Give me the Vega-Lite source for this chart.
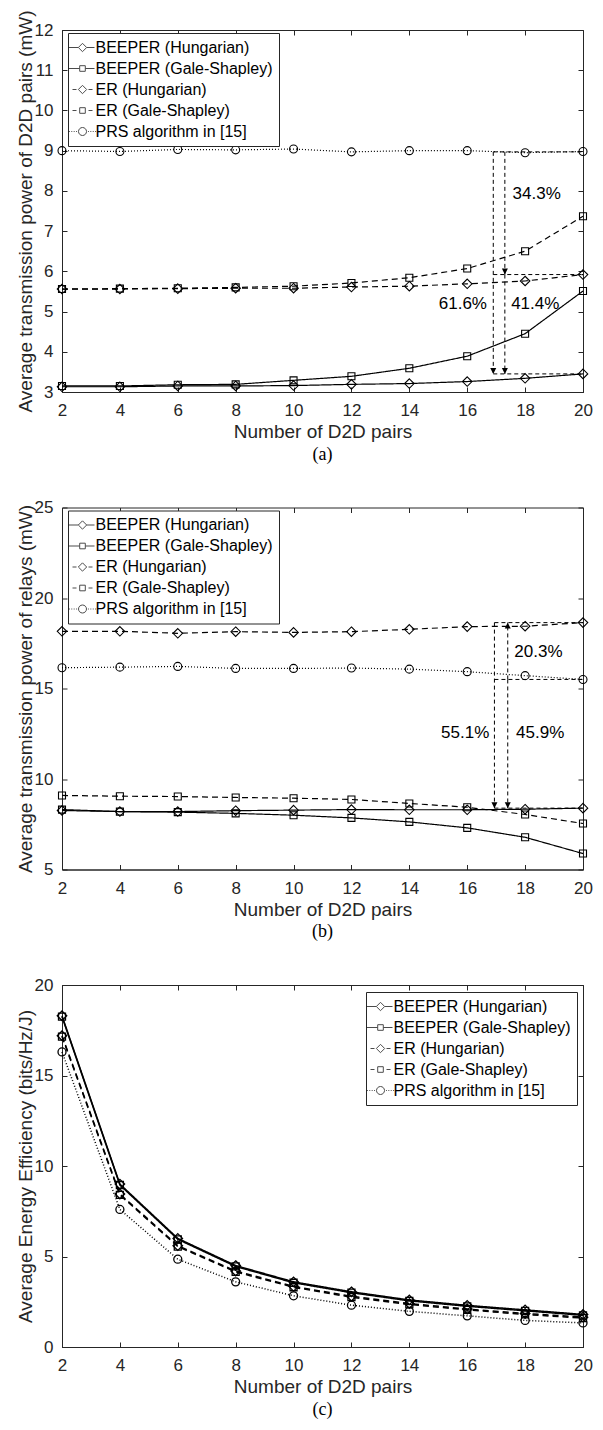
{
  "$schema": "https://vega.github.io/schema/vega-lite/v6.json",
  "background": "white",
  "padding": {"left": 15, "top": 9, "right": 5, "bottom": 5},
  "spacing": 33.5,
  "resolve": {"scale": {"strokeDash": "independent", "shape": "independent"}, "legend": {"strokeDash": "independent", "shape": "independent"}},
  "datasets": {
    "a": [
      {"n":2,"v":3.13,"s":"BEEPER (Hungarian)"},{"n":4,"v":3.13,"s":"BEEPER (Hungarian)"},{"n":6,"v":3.15,"s":"BEEPER (Hungarian)"},{"n":8,"v":3.15,"s":"BEEPER (Hungarian)"},{"n":10,"v":3.16,"s":"BEEPER (Hungarian)"},{"n":12,"v":3.19,"s":"BEEPER (Hungarian)"},{"n":14,"v":3.21,"s":"BEEPER (Hungarian)"},{"n":16,"v":3.26,"s":"BEEPER (Hungarian)"},{"n":18,"v":3.34,"s":"BEEPER (Hungarian)"},{"n":20,"v":3.45,"s":"BEEPER (Hungarian)"},
      {"n":2,"v":3.15,"s":"BEEPER (Gale-Shapley)"},{"n":4,"v":3.15,"s":"BEEPER (Gale-Shapley)"},{"n":6,"v":3.18,"s":"BEEPER (Gale-Shapley)"},{"n":8,"v":3.19,"s":"BEEPER (Gale-Shapley)"},{"n":10,"v":3.29,"s":"BEEPER (Gale-Shapley)"},{"n":12,"v":3.39,"s":"BEEPER (Gale-Shapley)"},{"n":14,"v":3.59,"s":"BEEPER (Gale-Shapley)"},{"n":16,"v":3.89,"s":"BEEPER (Gale-Shapley)"},{"n":18,"v":4.45,"s":"BEEPER (Gale-Shapley)"},{"n":20,"v":5.51,"s":"BEEPER (Gale-Shapley)"},
      {"n":2,"v":5.56,"s":"ER (Hungarian)"},{"n":4,"v":5.56,"s":"ER (Hungarian)"},{"n":6,"v":5.57,"s":"ER (Hungarian)"},{"n":8,"v":5.58,"s":"ER (Hungarian)"},{"n":10,"v":5.58,"s":"ER (Hungarian)"},{"n":12,"v":5.61,"s":"ER (Hungarian)"},{"n":14,"v":5.63,"s":"ER (Hungarian)"},{"n":16,"v":5.69,"s":"ER (Hungarian)"},{"n":18,"v":5.76,"s":"ER (Hungarian)"},{"n":20,"v":5.92,"s":"ER (Hungarian)"},
      {"n":2,"v":5.56,"s":"ER (Gale-Shapley)"},{"n":4,"v":5.57,"s":"ER (Gale-Shapley)"},{"n":6,"v":5.58,"s":"ER (Gale-Shapley)"},{"n":8,"v":5.6,"s":"ER (Gale-Shapley)"},{"n":10,"v":5.63,"s":"ER (Gale-Shapley)"},{"n":12,"v":5.71,"s":"ER (Gale-Shapley)"},{"n":14,"v":5.84,"s":"ER (Gale-Shapley)"},{"n":16,"v":6.07,"s":"ER (Gale-Shapley)"},{"n":18,"v":6.5,"s":"ER (Gale-Shapley)"},{"n":20,"v":7.37,"s":"ER (Gale-Shapley)"},
      {"n":2,"v":9.0,"s":"PRS algorithm in [15]"},{"n":4,"v":8.98,"s":"PRS algorithm in [15]"},{"n":6,"v":9.03,"s":"PRS algorithm in [15]"},{"n":8,"v":9.02,"s":"PRS algorithm in [15]"},{"n":10,"v":9.04,"s":"PRS algorithm in [15]"},{"n":12,"v":8.97,"s":"PRS algorithm in [15]"},{"n":14,"v":9.0,"s":"PRS algorithm in [15]"},{"n":16,"v":9.0,"s":"PRS algorithm in [15]"},{"n":18,"v":8.95,"s":"PRS algorithm in [15]"},{"n":20,"v":8.98,"s":"PRS algorithm in [15]"}
    ],
    "b": [
      {"n":2,"v":8.26,"s":"BEEPER (Hungarian)"},{"n":4,"v":8.2,"s":"BEEPER (Hungarian)"},{"n":6,"v":8.2,"s":"BEEPER (Hungarian)"},{"n":8,"v":8.25,"s":"BEEPER (Hungarian)"},{"n":10,"v":8.28,"s":"BEEPER (Hungarian)"},{"n":12,"v":8.31,"s":"BEEPER (Hungarian)"},{"n":14,"v":8.3,"s":"BEEPER (Hungarian)"},{"n":16,"v":8.3,"s":"BEEPER (Hungarian)"},{"n":18,"v":8.33,"s":"BEEPER (Hungarian)"},{"n":20,"v":8.39,"s":"BEEPER (Hungarian)"},
      {"n":2,"v":8.31,"s":"BEEPER (Gale-Shapley)"},{"n":4,"v":8.2,"s":"BEEPER (Gale-Shapley)"},{"n":6,"v":8.17,"s":"BEEPER (Gale-Shapley)"},{"n":8,"v":8.1,"s":"BEEPER (Gale-Shapley)"},{"n":10,"v":8.0,"s":"BEEPER (Gale-Shapley)"},{"n":12,"v":7.85,"s":"BEEPER (Gale-Shapley)"},{"n":14,"v":7.63,"s":"BEEPER (Gale-Shapley)"},{"n":16,"v":7.3,"s":"BEEPER (Gale-Shapley)"},{"n":18,"v":6.78,"s":"BEEPER (Gale-Shapley)"},{"n":20,"v":5.88,"s":"BEEPER (Gale-Shapley)"},
      {"n":2,"v":18.16,"s":"ER (Hungarian)"},{"n":4,"v":18.16,"s":"ER (Hungarian)"},{"n":6,"v":18.05,"s":"ER (Hungarian)"},{"n":8,"v":18.14,"s":"ER (Hungarian)"},{"n":10,"v":18.1,"s":"ER (Hungarian)"},{"n":12,"v":18.14,"s":"ER (Hungarian)"},{"n":14,"v":18.27,"s":"ER (Hungarian)"},{"n":16,"v":18.42,"s":"ER (Hungarian)"},{"n":18,"v":18.44,"s":"ER (Hungarian)"},{"n":20,"v":18.64,"s":"ER (Hungarian)"},
      {"n":2,"v":9.09,"s":"ER (Gale-Shapley)"},{"n":4,"v":9.05,"s":"ER (Gale-Shapley)"},{"n":6,"v":9.03,"s":"ER (Gale-Shapley)"},{"n":8,"v":8.98,"s":"ER (Gale-Shapley)"},{"n":10,"v":8.94,"s":"ER (Gale-Shapley)"},{"n":12,"v":8.87,"s":"ER (Gale-Shapley)"},{"n":14,"v":8.65,"s":"ER (Gale-Shapley)"},{"n":16,"v":8.44,"s":"ER (Gale-Shapley)"},{"n":18,"v":8.04,"s":"ER (Gale-Shapley)"},{"n":20,"v":7.54,"s":"ER (Gale-Shapley)"},
      {"n":2,"v":16.15,"s":"PRS algorithm in [15]"},{"n":4,"v":16.18,"s":"PRS algorithm in [15]"},{"n":6,"v":16.22,"s":"PRS algorithm in [15]"},{"n":8,"v":16.11,"s":"PRS algorithm in [15]"},{"n":10,"v":16.11,"s":"PRS algorithm in [15]"},{"n":12,"v":16.13,"s":"PRS algorithm in [15]"},{"n":14,"v":16.07,"s":"PRS algorithm in [15]"},{"n":16,"v":15.93,"s":"PRS algorithm in [15]"},{"n":18,"v":15.71,"s":"PRS algorithm in [15]"},{"n":20,"v":15.5,"s":"PRS algorithm in [15]"}
    ],
    "c": [
      {"n":2,"v":18.3,"s":"BEEPER (Hungarian)"},{"n":4,"v":9.0,"s":"BEEPER (Hungarian)"},{"n":6,"v":6.0,"s":"BEEPER (Hungarian)"},{"n":8,"v":4.5,"s":"BEEPER (Hungarian)"},{"n":10,"v":3.6,"s":"BEEPER (Hungarian)"},{"n":12,"v":3.05,"s":"BEEPER (Hungarian)"},{"n":14,"v":2.6,"s":"BEEPER (Hungarian)"},{"n":16,"v":2.3,"s":"BEEPER (Hungarian)"},{"n":18,"v":2.05,"s":"BEEPER (Hungarian)"},{"n":20,"v":1.8,"s":"BEEPER (Hungarian)"},
      {"n":2,"v":18.25,"s":"BEEPER (Gale-Shapley)"},{"n":4,"v":8.95,"s":"BEEPER (Gale-Shapley)"},{"n":6,"v":5.95,"s":"BEEPER (Gale-Shapley)"},{"n":8,"v":4.45,"s":"BEEPER (Gale-Shapley)"},{"n":10,"v":3.55,"s":"BEEPER (Gale-Shapley)"},{"n":12,"v":3.0,"s":"BEEPER (Gale-Shapley)"},{"n":14,"v":2.55,"s":"BEEPER (Gale-Shapley)"},{"n":16,"v":2.25,"s":"BEEPER (Gale-Shapley)"},{"n":18,"v":2.0,"s":"BEEPER (Gale-Shapley)"},{"n":20,"v":1.75,"s":"BEEPER (Gale-Shapley)"},
      {"n":2,"v":17.2,"s":"ER (Hungarian)"},{"n":4,"v":8.45,"s":"ER (Hungarian)"},{"n":6,"v":5.6,"s":"ER (Hungarian)"},{"n":8,"v":4.2,"s":"ER (Hungarian)"},{"n":10,"v":3.35,"s":"ER (Hungarian)"},{"n":12,"v":2.8,"s":"ER (Hungarian)"},{"n":14,"v":2.4,"s":"ER (Hungarian)"},{"n":16,"v":2.1,"s":"ER (Hungarian)"},{"n":18,"v":1.85,"s":"ER (Hungarian)"},{"n":20,"v":1.65,"s":"ER (Hungarian)"},
      {"n":2,"v":17.15,"s":"ER (Gale-Shapley)"},{"n":4,"v":8.4,"s":"ER (Gale-Shapley)"},{"n":6,"v":5.55,"s":"ER (Gale-Shapley)"},{"n":8,"v":4.15,"s":"ER (Gale-Shapley)"},{"n":10,"v":3.3,"s":"ER (Gale-Shapley)"},{"n":12,"v":2.75,"s":"ER (Gale-Shapley)"},{"n":14,"v":2.35,"s":"ER (Gale-Shapley)"},{"n":16,"v":2.05,"s":"ER (Gale-Shapley)"},{"n":18,"v":1.8,"s":"ER (Gale-Shapley)"},{"n":20,"v":1.6,"s":"ER (Gale-Shapley)"},
      {"n":2,"v":16.3,"s":"PRS algorithm in [15]"},{"n":4,"v":7.6,"s":"PRS algorithm in [15]"},{"n":6,"v":4.85,"s":"PRS algorithm in [15]"},{"n":8,"v":3.6,"s":"PRS algorithm in [15]"},{"n":10,"v":2.83,"s":"PRS algorithm in [15]"},{"n":12,"v":2.31,"s":"PRS algorithm in [15]"},{"n":14,"v":1.97,"s":"PRS algorithm in [15]"},{"n":16,"v":1.72,"s":"PRS algorithm in [15]"},{"n":18,"v":1.47,"s":"PRS algorithm in [15]"},{"n":20,"v":1.33,"s":"PRS algorithm in [15]"}
    ]
  },
  "vconcat": [
    {
      "width": 521, "height": 362,
      "title": {"text": "(a)"},
      "layer": [
        {
          "data": {"name": "a"},
          "mark": {"type": "line", "strokeWidth": 1.2, "color": "black"},
          "encoding": {
            "x": {"field": "n", "type": "quantitative", "scale": {"domain": [2, 20], "nice": false}, "axis": {"values": [2,4,6,8,10,12,14,16,18,20], "title": "Number of D2D pairs"}},
            "y": {"field": "v", "type": "quantitative", "scale": {"domain": [3, 12], "nice": false, "zero": false}, "axis": {"values": [3,4,5,6,7,8,9,10,11,12], "title": "Average transmission power of D2D pairs (mW)"}},
            "strokeDash": {"field": "s", "type": "nominal", "legend": null,
              "scale": {"domain": ["BEEPER (Hungarian)","BEEPER (Gale-Shapley)","ER (Hungarian)","ER (Gale-Shapley)","PRS algorithm in [15]"], "range": [[1,0],[1,0],[6,4],[6,4],[1,2]]}}
          }
        },
        {
          "data": {"name": "a"},
          "mark": {"type": "point", "filled": false, "strokeWidth": 1.1, "color": "black", "opacity": 1, "size": 100},
          "encoding": {
            "x": {"field": "n", "type": "quantitative", "axis": null},
            "y": {"field": "v", "type": "quantitative", "axis": null},
            "shape": {"field": "s", "type": "nominal", "legend": null,
              "scale": {"domain": ["BEEPER (Hungarian)","BEEPER (Gale-Shapley)","ER (Hungarian)","ER (Gale-Shapley)","PRS algorithm in [15]"],
                "range": ["M0,-0.95L0.95,0L0,0.95L-0.95,0Z","M-0.7,-0.7H0.7V0.7H-0.7Z","M0,-0.95L0.95,0L0,0.95L-0.95,0Z","M-0.7,-0.7H0.7V0.7H-0.7Z","M0.8,0A0.8,0.8,0,1,1,-0.8,0A0.8,0.8,0,1,1,0.8,0Z"]}}
          }
        },
        {
          "data": {"name": "a"},
          "transform": [{"filter": "false"}],
          "mark": {"type": "point", "filled": false, "strokeWidth": 1, "color": "black"},
          "encoding": {
            "shape": {"field": "s", "type": "nominal",
              "scale": {"domain": ["BEEPER (Hungarian)","BEEPER (Gale-Shapley)","ER (Hungarian)","ER (Gale-Shapley)","PRS algorithm in [15]"],
                "range": ["M-1.7,0H-0.52M0.52,0H1.5M-0.52,0L0,-0.52L0.52,0L0,0.52Z","M-1.7,0H-0.35M0.35,0H1.5M-0.35,-0.35H0.35V0.35H-0.35Z","M-1.25,0H-0.75M0.75,0H1.25M-0.52,0L0,-0.52L0.52,0L0,0.52Z","M-1.25,0H-0.75M0.75,0H1.25M-0.35,-0.35H0.35V0.35H-0.35Z","M-1.7,0H-1.58M-1.4,0H-1.28M-1.1,0H-0.98M-0.8,0H-0.68M0.68,0H0.8M0.98,0H1.1M1.28,0H1.4M1.58,0H1.7M0.5,0A0.5,0.5,0,1,1,-0.5,0A0.5,0.5,0,1,1,0.5,0Z"]},
              "legend": {"title": null, "orient": "none", "legendX": 6, "legendY": 3, "direction": "vertical", "strokeColor": "#262626", "fillColor": "white", "padding": 6, "rowPadding": 4, "symbolSize": 256, "symbolStrokeColor": "black", "symbolFillColor": "transparent", "symbolStrokeWidth": 1, "labelFont": "Liberation Sans", "labelFontSize": 16, "labelColor": "black", "labelOffset": 4.5, "labelLimit": 400}}
          }
        },
        {
          "data": {"values": [{"n":16.9,"v":8.97,"v2":3.45},{"n":17.3,"v":8.97,"v2":5.92},{"n":17.3,"v":5.92,"v2":3.45}]},
          "mark": {"type": "rule", "strokeDash": [4,3], "strokeWidth": 1, "color": "black"},
          "encoding": {"x": {"field": "n", "type": "quantitative", "axis": null}, "y": {"field": "v", "type": "quantitative", "axis": null}, "y2": {"field": "v2"}}
        },
        {
          "data": {"values": [{"n":16.9,"n2":20,"v":8.97},{"n":16.9,"n2":20,"v":5.92},{"n":16.9,"n2":20,"v":3.45}]},
          "mark": {"type": "rule", "strokeDash": [4,3], "strokeWidth": 1, "color": "black"},
          "encoding": {"x": {"field": "n", "type": "quantitative", "axis": null}, "x2": {"field": "n2"}, "y": {"field": "v", "type": "quantitative", "axis": null}}
        },
        {
          "data": {"values": [{"n":16.9,"v":3.45},{"n":17.3,"v":5.92},{"n":17.3,"v":3.45}]},
          "mark": {"type": "point", "shape": "M-0.5,-1L0,0L0.5,-1Z", "filled": true, "size": 144, "color": "black", "opacity": 1},
          "encoding": {"x": {"field": "n", "type": "quantitative", "axis": null}, "y": {"field": "v", "type": "quantitative", "axis": null}}
        },
        {
          "data": {"values": [{"n":18.4,"v":7.93,"t":"34.3%"},{"n":15.85,"v":5.18,"t":"61.6%"},{"n":18.35,"v":5.18,"t":"41.4%"}]},
          "mark": {"type": "text", "font": "Liberation Sans", "fontSize": 17, "color": "black", "align": "center", "baseline": "middle"},
          "encoding": {"x": {"field": "n", "type": "quantitative", "axis": null}, "y": {"field": "v", "type": "quantitative", "axis": null}, "text": {"field": "t"}}
        },
        {
          "data": {"name": "a"},
          "mark": {"type": "point", "opacity": 0},
          "encoding": {
            "x": {"field": "n", "type": "quantitative", "axis": {"orient": "top", "labels": false, "title": null, "domain": false, "values": [2,4,6,8,10,12,14,16,18,20]}},
            "y": {"field": "v", "type": "quantitative", "axis": {"orient": "right", "labels": false, "title": null, "domain": false, "values": [3,4,5,6,7,8,9,10,11,12]}}
          }
        }
      ],
      "resolve": {"axis": {"x": "independent", "y": "independent"}, "scale": {"shape": "independent"}, "legend": {"shape": "independent"}}
    },
    {
      "width": 521, "height": 362,
      "title": {"text": "(b)"},
      "layer": [
        {
          "data": {"name": "b"},
          "mark": {"type": "line", "strokeWidth": 1.2, "color": "black"},
          "encoding": {
            "x": {"field": "n", "type": "quantitative", "scale": {"domain": [2, 20], "nice": false}, "axis": {"values": [2,4,6,8,10,12,14,16,18,20], "title": "Number of D2D pairs"}},
            "y": {"field": "v", "type": "quantitative", "scale": {"domain": [5, 25], "nice": false, "zero": false}, "axis": {"values": [5,10,15,20,25], "title": "Average transmission power of relays (mW)"}},
            "strokeDash": {"field": "s", "type": "nominal", "legend": null,
              "scale": {"domain": ["BEEPER (Hungarian)","BEEPER (Gale-Shapley)","ER (Hungarian)","ER (Gale-Shapley)","PRS algorithm in [15]"], "range": [[1,0],[1,0],[6,4],[6,4],[1,2]]}}
          }
        },
        {
          "data": {"name": "b"},
          "mark": {"type": "point", "filled": false, "strokeWidth": 1.1, "color": "black", "opacity": 1, "size": 100},
          "encoding": {
            "x": {"field": "n", "type": "quantitative", "axis": null},
            "y": {"field": "v", "type": "quantitative", "axis": null},
            "shape": {"field": "s", "type": "nominal", "legend": null,
              "scale": {"domain": ["BEEPER (Hungarian)","BEEPER (Gale-Shapley)","ER (Hungarian)","ER (Gale-Shapley)","PRS algorithm in [15]"],
                "range": ["M0,-0.95L0.95,0L0,0.95L-0.95,0Z","M-0.7,-0.7H0.7V0.7H-0.7Z","M0,-0.95L0.95,0L0,0.95L-0.95,0Z","M-0.7,-0.7H0.7V0.7H-0.7Z","M0.8,0A0.8,0.8,0,1,1,-0.8,0A0.8,0.8,0,1,1,0.8,0Z"]}}
          }
        },
        {
          "data": {"name": "b"},
          "transform": [{"filter": "false"}],
          "mark": {"type": "point", "filled": false, "strokeWidth": 1, "color": "black"},
          "encoding": {
            "shape": {"field": "s", "type": "nominal",
              "scale": {"domain": ["BEEPER (Hungarian)","BEEPER (Gale-Shapley)","ER (Hungarian)","ER (Gale-Shapley)","PRS algorithm in [15]"],
                "range": ["M-1.7,0H-0.52M0.52,0H1.5M-0.52,0L0,-0.52L0.52,0L0,0.52Z","M-1.7,0H-0.35M0.35,0H1.5M-0.35,-0.35H0.35V0.35H-0.35Z","M-1.25,0H-0.75M0.75,0H1.25M-0.52,0L0,-0.52L0.52,0L0,0.52Z","M-1.25,0H-0.75M0.75,0H1.25M-0.35,-0.35H0.35V0.35H-0.35Z","M-1.7,0H-1.58M-1.4,0H-1.28M-1.1,0H-0.98M-0.8,0H-0.68M0.68,0H0.8M0.98,0H1.1M1.28,0H1.4M1.58,0H1.7M0.5,0A0.5,0.5,0,1,1,-0.5,0A0.5,0.5,0,1,1,0.5,0Z"]},
              "legend": {"title": null, "orient": "none", "legendX": 6, "legendY": 3, "direction": "vertical", "strokeColor": "#262626", "fillColor": "white", "padding": 6, "rowPadding": 4, "symbolSize": 256, "symbolStrokeColor": "black", "symbolFillColor": "transparent", "symbolStrokeWidth": 1, "labelFont": "Liberation Sans", "labelFontSize": 16, "labelColor": "black", "labelOffset": 4.5, "labelLimit": 400}}
          }
        },
        {
          "data": {"values": [{"n":16.94,"v":18.64,"v2":8.39},{"n":17.4,"v":15.5,"v2":18.64},{"n":17.4,"v":15.5,"v2":8.39}]},
          "mark": {"type": "rule", "strokeDash": [4,3], "strokeWidth": 1, "color": "black"},
          "encoding": {"x": {"field": "n", "type": "quantitative", "axis": null}, "y": {"field": "v", "type": "quantitative", "axis": null}, "y2": {"field": "v2"}}
        },
        {
          "data": {"values": [{"n":16.94,"n2":20,"v":18.64},{"n":16.94,"n2":20,"v":15.5},{"n":16.94,"n2":20,"v":8.39}]},
          "mark": {"type": "rule", "strokeDash": [4,3], "strokeWidth": 1, "color": "black"},
          "encoding": {"x": {"field": "n", "type": "quantitative", "axis": null}, "x2": {"field": "n2"}, "y": {"field": "v", "type": "quantitative", "axis": null}}
        },
        {
          "data": {"values": [{"n":16.94,"v":8.39},{"n":17.4,"v":8.39}]},
          "mark": {"type": "point", "shape": "M-0.5,-1L0,0L0.5,-1Z", "filled": true, "size": 144, "color": "black", "opacity": 1},
          "encoding": {"x": {"field": "n", "type": "quantitative", "axis": null}, "y": {"field": "v", "type": "quantitative", "axis": null}}
        },
        {
          "data": {"values": [{"n":17.4,"v":18.64}]},
          "mark": {"type": "point", "shape": "M-0.5,1L0,0L0.5,1Z", "filled": true, "size": 144, "color": "black", "opacity": 1},
          "encoding": {"x": {"field": "n", "type": "quantitative", "axis": null}, "y": {"field": "v", "type": "quantitative", "axis": null}}
        },
        {
          "data": {"values": [{"n":18.46,"v":17.0,"t":"20.3%"},{"n":15.93,"v":12.55,"t":"55.1%"},{"n":18.52,"v":12.55,"t":"45.9%"}]},
          "mark": {"type": "text", "font": "Liberation Sans", "fontSize": 17, "color": "black", "align": "center", "baseline": "middle"},
          "encoding": {"x": {"field": "n", "type": "quantitative", "axis": null}, "y": {"field": "v", "type": "quantitative", "axis": null}, "text": {"field": "t"}}
        },
        {
          "data": {"name": "b"},
          "mark": {"type": "point", "opacity": 0},
          "encoding": {
            "x": {"field": "n", "type": "quantitative", "axis": {"orient": "top", "labels": false, "title": null, "domain": false, "values": [2,4,6,8,10,12,14,16,18,20]}},
            "y": {"field": "v", "type": "quantitative", "axis": {"orient": "right", "labels": false, "title": null, "domain": false, "values": [5,10,15,20,25]}}
          }
        }
      ],
      "resolve": {"axis": {"x": "independent", "y": "independent"}, "scale": {"shape": "independent"}, "legend": {"shape": "independent"}}
    },
    {
      "width": 521, "height": 362,
      "title": {"text": "(c)"},
      "layer": [
        {
          "data": {"name": "c"},
          "mark": {"type": "line", "strokeWidth": 1.5, "color": "black"},
          "encoding": {
            "x": {"field": "n", "type": "quantitative", "scale": {"domain": [2, 20], "nice": false}, "axis": {"values": [2,4,6,8,10,12,14,16,18,20], "title": "Number of D2D pairs"}},
            "y": {"field": "v", "type": "quantitative", "scale": {"domain": [0, 20], "nice": false}, "axis": {"values": [0,5,10,15,20], "title": "Average Energy Efficiency (bits/Hz/J)"}},
            "strokeDash": {"field": "s", "type": "nominal", "legend": null,
              "scale": {"domain": ["BEEPER (Hungarian)","BEEPER (Gale-Shapley)","ER (Hungarian)","ER (Gale-Shapley)","PRS algorithm in [15]"], "range": [[1,0],[1,0],[6,4],[6,4],[1,2]]}}
          }
        },
        {
          "data": {"name": "c"},
          "mark": {"type": "point", "filled": false, "strokeWidth": 1.3, "color": "black", "opacity": 1, "size": 100},
          "encoding": {
            "x": {"field": "n", "type": "quantitative", "axis": null},
            "y": {"field": "v", "type": "quantitative", "axis": null},
            "shape": {"field": "s", "type": "nominal", "legend": null,
              "scale": {"domain": ["BEEPER (Hungarian)","BEEPER (Gale-Shapley)","ER (Hungarian)","ER (Gale-Shapley)","PRS algorithm in [15]"],
                "range": ["M0,-0.95L0.95,0L0,0.95L-0.95,0Z","M-0.7,-0.7H0.7V0.7H-0.7Z","M0,-0.95L0.95,0L0,0.95L-0.95,0Z","M-0.7,-0.7H0.7V0.7H-0.7Z","M0.8,0A0.8,0.8,0,1,1,-0.8,0A0.8,0.8,0,1,1,0.8,0Z"]}}
          }
        },
        {
          "data": {"name": "c"},
          "transform": [{"filter": "false"}],
          "mark": {"type": "point", "filled": false, "strokeWidth": 1, "color": "black"},
          "encoding": {
            "shape": {"field": "s", "type": "nominal",
              "scale": {"domain": ["BEEPER (Hungarian)","BEEPER (Gale-Shapley)","ER (Hungarian)","ER (Gale-Shapley)","PRS algorithm in [15]"],
                "range": ["M-1.7,0H-0.52M0.52,0H1.5M-0.52,0L0,-0.52L0.52,0L0,0.52Z","M-1.7,0H-0.35M0.35,0H1.5M-0.35,-0.35H0.35V0.35H-0.35Z","M-1.25,0H-0.75M0.75,0H1.25M-0.52,0L0,-0.52L0.52,0L0,0.52Z","M-1.25,0H-0.75M0.75,0H1.25M-0.35,-0.35H0.35V0.35H-0.35Z","M-1.7,0H-1.58M-1.4,0H-1.28M-1.1,0H-0.98M-0.8,0H-0.68M0.68,0H0.8M0.98,0H1.1M1.28,0H1.4M1.58,0H1.7M0.5,0A0.5,0.5,0,1,1,-0.5,0A0.5,0.5,0,1,1,0.5,0Z"]},
              "legend": {"title": null, "orient": "none", "legendX": 304, "legendY": 7, "direction": "vertical", "strokeColor": "#262626", "fillColor": "white", "padding": 6, "rowPadding": 4, "symbolSize": 256, "symbolStrokeColor": "black", "symbolFillColor": "transparent", "symbolStrokeWidth": 1, "labelFont": "Liberation Sans", "labelFontSize": 16, "labelColor": "black", "labelOffset": 4.5, "labelLimit": 400}}
          }
        },
        {
          "data": {"name": "c"},
          "mark": {"type": "point", "opacity": 0},
          "encoding": {
            "x": {"field": "n", "type": "quantitative", "axis": {"orient": "top", "labels": false, "title": null, "domain": false, "values": [2,4,6,8,10,12,14,16,18,20]}},
            "y": {"field": "v", "type": "quantitative", "axis": {"orient": "right", "labels": false, "title": null, "domain": false, "values": [0,5,10,15,20]}}
          }
        }
      ],
      "resolve": {"axis": {"x": "independent", "y": "independent"}, "scale": {"shape": "independent"}, "legend": {"shape": "independent"}}
    }
  ],
  "config": {
    "font": "Liberation Sans",
    "view": {"stroke": "#262626", "strokeWidth": 1},
    "axis": {"grid": false, "domainColor": "#262626", "domainWidth": 1, "tickColor": "#262626", "tickSize": -5, "tickWidth": 1,
      "labelFont": "Liberation Sans", "labelFontSize": 17, "labelColor": "#262626",
      "titleFont": "Liberation Sans", "titleFontSize": 19, "titleFontWeight": "normal", "titleColor": "#262626"},
    "axisX": {"labelPadding": 15.5, "titlePadding": 4, "labelFlush": false},
    "axisY": {"labelPadding": 14, "titlePadding": -1},
    "title": {"font": "Liberation Serif", "fontSize": 18, "fontWeight": "normal", "color": "black", "orient": "bottom", "anchor": "middle", "frame": "group", "offset": 0}
  }
}
